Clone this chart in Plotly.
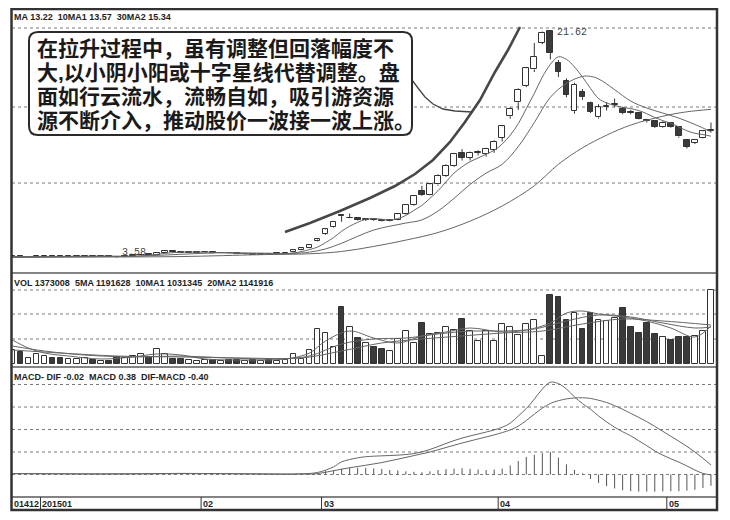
import plotly.graph_objects as go

# ---------------- data ----------------
idx = list(range(-1, 87))  # trading-day index; month starts below

opens = [3.68, 3.73, 3.67, 3.70, 3.71, 3.75, 3.71, 3.68, 3.70, 3.72,
         3.76, 3.72, 3.74, 3.68, 3.64, 3.73, 3.80, 3.88, 3.84, 4.02,
         4.12, 4.06, 3.99, 4.02, 4.03, 4.05, 3.97, 4.00, 3.95, 3.87,
         3.90, 3.86, 3.92, 3.90, 3.95, 4.05, 4.22, 4.36, 4.95, 5.48,
         6.00, 6.95, 6.72, 6.72, 6.60, 6.66, 6.58, 6.52, 6.62, 7.05,
         7.80, 8.90, 8.60, 9.40, 10.10, 10.90, 11.90, 11.50, 11.90, 11.80,
         12.10, 13.10, 14.80, 15.90, 17.20, 18.50, 20.60, 21.55, 19.00, 17.60,
         15.20, 16.75, 15.85, 14.70, 15.55, 15.70, 15.40, 15.15, 15.05, 14.50,
         14.40, 13.98, 14.30, 13.95, 12.90, 12.70, 13.10, 13.60]
closes = [3.73, 3.67, 3.70, 3.74, 3.75, 3.70, 3.68, 3.71, 3.73, 3.76,
          3.72, 3.74, 3.68, 3.64, 3.73, 3.80, 3.86, 3.83, 4.02, 4.12,
          4.05, 4.00, 4.03, 4.04, 4.05, 3.98, 4.00, 3.95, 3.88, 3.90,
          3.86, 3.92, 3.90, 3.95, 4.00, 4.22, 4.36, 4.60, 5.05, 5.85,
          6.45, 6.90, 6.76, 6.62, 6.66, 6.58, 6.52, 6.62, 7.05, 7.78,
          8.48, 8.60, 9.40, 10.10, 10.90, 11.80, 11.50, 11.90, 12.00, 12.20,
          12.80, 14.00, 15.40, 16.90, 18.60, 19.50, 21.40, 19.80, 18.30, 16.50,
          17.30, 16.30, 15.15, 15.50, 15.60, 15.75, 15.05, 15.05, 14.60, 14.42,
          13.95, 14.30, 13.98, 13.20, 12.40, 12.95, 13.60, 13.70]
highs = [3.75, 3.76, 3.72, 3.76, 3.78, 3.77, 3.74, 3.73, 3.75, 3.78,
         3.78, 3.76, 3.75, 3.70, 3.75, 3.82, 3.88, 3.90, 4.05, 4.18,
         4.15, 4.08, 4.06, 4.07, 4.08, 4.06, 4.03, 4.02, 3.97, 3.93,
         3.92, 3.94, 3.96, 3.97, 4.02, 4.25, 4.40, 4.65, 5.12, 5.92,
         6.52, 7.00, 7.10, 6.80, 6.72, 6.70, 6.64, 6.66, 7.12, 7.85,
         8.55, 9.30, 9.50, 10.20, 11.00, 11.90, 12.20, 12.00, 12.10, 12.30,
         12.90, 14.10, 15.50, 17.00, 18.70, 20.60, 21.50, 21.62, 19.25, 17.80,
         17.45, 16.95, 15.95, 15.75, 15.90, 16.20, 15.55, 15.30, 15.15, 14.60,
         14.50, 14.40, 14.35, 14.00, 13.00, 13.00, 13.70, 14.30]
lows = [3.64, 3.64, 3.63, 3.66, 3.68, 3.68, 3.66, 3.66, 3.68, 3.70,
        3.70, 3.70, 3.66, 3.58, 3.62, 3.71, 3.78, 3.80, 3.82, 4.00,
        4.02, 3.98, 3.97, 3.98, 3.99, 3.95, 3.95, 3.92, 3.86, 3.84,
        3.84, 3.85, 3.88, 3.89, 3.93, 4.03, 4.20, 4.34, 4.90, 5.42,
        5.95, 6.45, 6.70, 6.55, 6.52, 6.52, 6.48, 6.48, 6.58, 7.00,
        7.72, 8.50, 8.55, 9.30, 10.00, 10.80, 11.30, 11.30, 11.70, 11.60,
        11.90, 12.80, 14.60, 15.30, 17.10, 18.30, 20.50, 19.30, 17.90, 16.30,
        15.00, 16.10, 15.05, 14.60, 15.25, 15.50, 14.95, 14.95, 14.55, 14.30,
        13.88, 13.90, 13.90, 13.10, 12.25, 12.60, 13.05, 13.50]
volumes = [260000, 223000, 111000, 186000, 148000, 111000, 111000, 93000, 93000, 111000,
           74000, 56000, 56000, 130000, 111000, 148000, 186000, 130000, 278000, 186000,
           93000, 93000, 74000, 56000, 74000, 74000, 56000, 74000, 74000, 56000,
           74000, 56000, 74000, 56000, 74000, 186000, 93000, 260000, 649000, 575000,
           315000, 1058000, 686000, 482000, 390000, 315000, 278000, 241000, 464000, 612000,
           390000, 761000, 557000, 575000, 686000, 631000, 835000, 612000, 427000, 612000,
           427000, 742000, 686000, 538000, 742000, 816000, 148000, 1280000, 1243000, 816000,
           946000, 649000, 946000, 816000, 798000, 853000, 1039000, 686000, 575000, 761000,
           557000, 501000, 445000, 501000, 501000, 520000, 612000, 1373008]

# price moving averages (read at these trading-day indices)
ma5_idx = [-1, 2, 5, 8, 11, 14, 16, 18, 20, 22, 25, 28, 31, 34, 36, 37, 38, 39, 40, 41,
           42, 43, 44, 45, 46, 47, 48, 49, 50, 51, 52, 53, 54, 55, 56, 57, 58, 59, 60, 61,
           62, 63, 64, 65, 66, 67, 68, 69, 70, 71, 72, 73, 74, 75, 76, 77, 78, 79, 80, 81,
           82, 83, 84, 85, 86]
ma5_val = [3.70, 3.70, 3.71, 3.72, 3.73, 3.72, 3.80, 3.95, 4.05, 4.05, 4.01, 3.93, 3.89, 3.98,
           4.25, 4.45, 4.80, 5.20, 5.70, 6.10, 6.40, 6.65, 6.70, 6.65, 6.60, 6.70, 6.95, 7.35,
           7.75, 8.30, 8.90, 9.60, 10.30, 10.80, 11.20, 11.50, 11.80, 12.10, 12.60, 13.30,
           14.20, 15.40, 16.60, 17.90, 18.90, 19.50, 19.30, 18.70, 17.90, 17.00, 16.20, 15.85,
           15.65, 15.50, 15.40, 15.25, 15.00, 14.70, 14.45, 14.25, 13.95, 13.65, 13.45, 13.35,
           13.22]
ma10_idx = [-1, 5, 10, 15, 20, 25, 30, 34, 36, 38, 40, 42, 44, 46, 48, 50, 52, 54, 56, 58,
            60, 62, 64, 66, 68, 70, 71, 72, 74, 76, 78, 80, 82, 84, 86]
ma10_val = [3.70, 3.70, 3.71, 3.74, 3.88, 4.00, 3.97, 3.95, 4.05, 4.30, 4.75, 5.30, 5.80,
            6.10, 6.35, 6.60, 7.30, 8.30, 9.40, 10.30, 11.00, 12.40, 14.30, 16.30, 17.40,
            17.95, 17.95, 17.75, 16.90, 16.00, 15.45, 15.05, 14.65, 14.15, 13.57]
ma30_idx = [-1, 10, 20, 30, 36, 40, 44, 48, 52, 56, 60, 64, 67, 70, 73, 76, 80, 83, 86]
ma30_val = [3.62, 3.66, 3.70, 3.85, 3.92, 4.10, 4.50, 5.00, 5.60, 6.50, 7.70, 9.30, 11.00,
            12.30, 13.30, 14.10, 14.80, 15.15, 15.34]

# volume moving averages
vma5_idx = [-1, 1, 3, 6, 10, 14, 17, 20, 23, 28, 33, 36, 38, 41, 44, 47, 50, 53, 56, 60,
            63, 66, 68, 70, 72, 75, 78, 81, 84, 86]
vma5_val = [445000, 297000, 204000, 148000, 93000, 130000, 186000, 167000, 93000, 74000,
            93000, 204000, 427000, 612000, 482000, 390000, 520000, 594000, 668000, 594000,
            631000, 761000, 946000, 983000, 928000, 872000, 798000, 668000, 501000, 705000]
vma10_idx = [-1, 3, 8, 14, 20, 26, 32, 36, 40, 44, 48, 52, 56, 60, 64, 68, 72, 76, 80, 84, 86]
vma10_val = [334000, 241000, 167000, 130000, 148000, 111000, 93000, 148000, 371000, 464000,
             482000, 557000, 612000, 612000, 649000, 798000, 909000, 872000, 761000, 668000,
             686000]
vma20_idx = [-1, 5, 12, 20, 28, 35, 40, 45, 50, 55, 60, 65, 70, 75, 80, 86]
vma20_val = [260000, 204000, 148000, 130000, 111000, 111000, 241000, 390000, 464000, 520000,
             575000, 612000, 742000, 835000, 798000, 724000]

# MACD (DIF, DEA lines and DIF-DEA histogram)
dif_idx = [-1, 5, 10, 15, 20, 25, 30, 34, 37, 39, 40, 42, 43, 45, 47, 49, 51, 53, 55, 57,
           59, 60, 61, 62, 63, 64, 65, 66, 67, 68, 69, 70, 71, 72, 73, 74, 75, 76, 77, 78,
           79, 80, 81, 82, 83, 84, 85, 86]
dif_val = [0.04, 0.03, 0.02, 0.03, 0.05, 0.04, 0.02, 0.02, 0.09, 0.34, 0.56, 0.74, 0.79,
           0.83, 0.86, 0.93, 1.11, 1.38, 1.62, 1.80, 1.98, 2.10, 2.28, 2.60, 2.93, 3.35,
           3.80, 4.10, 4.04, 3.80, 3.45, 3.15, 2.90, 2.60, 2.34, 2.10, 1.90, 1.72, 1.50,
           1.28, 1.05, 0.86, 0.70, 0.55, 0.38, 0.20, 0.05, -0.02]
dea_idx = [-1, 10, 20, 30, 35, 37, 39, 41, 43, 45, 47, 49, 51, 53, 55, 57, 59, 61, 62, 63,
           64, 65, 66, 67, 68, 69, 70, 71, 72, 73, 74, 75, 76, 77, 78, 79, 80, 81, 82, 83,
           84, 85, 86]
dea_val = [0.04, 0.03, 0.04, 0.03, 0.02, 0.04, 0.17, 0.30, 0.41, 0.53, 0.68, 0.84, 1.00,
           1.20, 1.40, 1.58, 1.76, 1.98, 2.15, 2.40, 2.68, 2.95, 3.16, 3.28, 3.36, 3.40,
           3.41, 3.38, 3.30, 3.20, 3.06, 2.90, 2.72, 2.54, 2.35, 2.14, 1.92, 1.70, 1.48,
           1.25, 1.00, 0.72, 0.42]
macd_hist = [0.01, 0.01, 0.00, 0.01, 0.01, 0.00, 0.01, 0.01, 0.00, 0.01,
             0.01, 0.00, 0.01, 0.02, 0.01, 0.01, 0.02, 0.02, 0.01, 0.01,
             0.01, 0.00, 0.01, 0.01, 0.00, 0.01, 0.00, 0.01, 0.00, 0.01,
             0.00, 0.01, 0.00, 0.01, 0.01, 0.02, 0.03, 0.04, 0.05, 0.15,
             0.17, 0.26, 0.30, 0.30, 0.30, 0.27, 0.25, 0.20, 0.18, 0.14,
             0.12, 0.10, 0.14, 0.20, 0.24, 0.26, 0.28, 0.25, 0.22, 0.20,
             0.22, 0.26, 0.40, 0.60, 0.78, 0.88, 0.95, 1.00, 0.75, 0.45,
             0.20, 0.05, -0.20, -0.38, -0.52, -0.62, -0.70, -0.74, -0.76, -0.76,
             -0.76, -0.75, -0.74, -0.74, -0.72, -0.68, -0.60, -0.50]

month_labels = ["01412", "201501", "02", "03", "04", "05"]
month_start = [None, 3, 23, 38, 60, 81]

SP = " \u00a0"
legend_main = f"MA 13.22{SP}10MA1 13.57{SP}30MA2 15.34"
legend_vol = f"VOL 1373008{SP}5MA 1191628{SP}10MA1 1031345{SP}20MA2 1141916"
legend_macd = f"MACD- DIF -0.02{SP}MACD 0.38{SP}DIF-MACD -0.40"
note_lines = ["在拉升过程中，虽有调整但回落幅度不",
              "大,以小阴小阳或十字星线代替调整。盘",
              "面如行云流水，流畅自如，吸引游资源",
              "源不断介入，推动股价一波接一波上涨。"]

# ---------------- page geometry ----------------
# the page body adds an 8px offset; the figure fills the rest of the 730x520 window
OFF = 8
W, H = 730 - OFF, 520 - OFF
PX0, PX1, PY0, PY1 = 12, 716, 8, 510          # plot area in window pixels
L, R, T, B = PX0 - OFF, 730 - PX1, PY0 - OFF, 520 - PY1
PW, PH = PX1 - PX0, PY1 - PY0


def px(x):
    return (x - PX0) / PW


def py(y):
    return (PY1 - y) / PH


DARK = "#333333"
LINE = "#5a5a5a"
SMALLFONT = "Liberation Sans, Arial, sans-serif"

fig = go.Figure()

# ---- candles: wicks (split so they don't cross hollow bodies) ----
wx, wy = [], []
for i, o, h, l, c in zip(idx, opens, highs, lows, closes):
    top, bot = max(o, c), min(o, c)
    wx += [i, i, None, i, i, None]
    wy += [h, top, None, bot, l, None]
fig.add_trace(go.Scatter(x=wx, y=wy, mode="lines", line=dict(color=DARK, width=1),
                         hoverinfo="skip", xaxis="x", yaxis="y"))

up_x, up_b, up_h, dn_x, dn_b, dn_h = [], [], [], [], [], []
for i, o, c in zip(idx, opens, closes):
    hgt = max(abs(c - o), 0.03)
    if c >= o:
        up_x.append(i); up_b.append(min(o, c)); up_h.append(hgt)
    else:
        dn_x.append(i); dn_b.append(min(o, c)); dn_h.append(hgt)
fig.add_trace(go.Bar(x=up_x, y=up_h, base=up_b, width=0.72,
                     marker=dict(color="white", line=dict(color=DARK, width=1)),
                     xaxis="x", yaxis="y"))
fig.add_trace(go.Bar(x=dn_x, y=dn_h, base=dn_b, width=0.72,
                     marker=dict(color="#3a3a3a", line=dict(color=DARK, width=1)),
                     xaxis="x", yaxis="y"))

for xs, ys in [(ma5_idx, ma5_val), (ma10_idx, ma10_val), (ma30_idx, ma30_val)]:
    fig.add_trace(go.Scatter(x=xs, y=ys, mode="lines", line=dict(color="#666666", width=1),
                             line_shape="spline", xaxis="x", yaxis="y"))

# ---- volume ----
vu_x, vu_y, vd_x, vd_y = [], [], [], []
for i, o, c, v in zip(idx, opens, closes, volumes):
    if c >= o:
        vu_x.append(i); vu_y.append(v)
    else:
        vd_x.append(i); vd_y.append(v)
fig.add_trace(go.Bar(x=vu_x, y=vu_y, width=0.72,
                     marker=dict(color="white", line=dict(color=DARK, width=1)),
                     xaxis="x2", yaxis="y2"))
fig.add_trace(go.Bar(x=vd_x, y=vd_y, width=0.72,
                     marker=dict(color="#3a3a3a", line=dict(color=DARK, width=1)),
                     xaxis="x2", yaxis="y2"))
for xs, ys in [(vma5_idx, vma5_val), (vma10_idx, vma10_val), (vma20_idx, vma20_val)]:
    fig.add_trace(go.Scatter(x=xs, y=ys, mode="lines", line=dict(color="#666666", width=1),
                             line_shape="spline", xaxis="x2", yaxis="y2"))

# ---- MACD ----
hx, hy = [], []
for i, v in zip(idx, macd_hist):
    hx += [i, i, None]
    hy += [0, v, None]
fig.add_trace(go.Scatter(x=hx, y=hy, mode="lines", line=dict(color="#555555", width=1),
                         xaxis="x3", yaxis="y3"))
for xs, ys in [(dif_idx, dif_val), (dea_idx, dea_val)]:
    fig.add_trace(go.Scatter(x=xs, y=ys, mode="lines", line=dict(color="#666666", width=1),
                             line_shape="spline", xaxis="x3", yaxis="y3"))

# ---------------- axes ----------------
xr = [(PX0 - 20.4) / 8.03, (PX1 - 20.4) / 8.03]
dom_main = [py(273), py(PY0)]
dom_vol = [py(367), py(273)]
dom_macd = [py(497), py(367)]
price_slope = 0.0791
vol_slope = 18554
macd_slope = 1 / 22.5
ax_common = dict(visible=False, fixedrange=True)
fig.update_layout(
    xaxis=dict(range=xr, domain=[0, 1], anchor="y", **ax_common),
    xaxis2=dict(range=xr, domain=[0, 1], anchor="y2", matches="x", **ax_common),
    xaxis3=dict(range=xr, domain=[0, 1], anchor="y3", matches="x", **ax_common),
    yaxis=dict(domain=dom_main, range=[21.62 - (273 - 30) * price_slope,
                                       21.62 + (30 - PY0) * price_slope], **ax_common),
    yaxis2=dict(domain=dom_vol, range=[-(367 - 364) * vol_slope, (364 - 273) * vol_slope],
                **ax_common),
    yaxis3=dict(domain=dom_macd, range=[-(497 - 474.5) * macd_slope, (474.5 - 367) * macd_slope],
                **ax_common),
)

# ---------------- shapes: grid, frame, separators ----------------
shapes = []
for yy in [28, 107, 183, 290, 314, 339, 384.5, 407, 429.5, 452, 474.5]:
    shapes.append(dict(type="line", xref="paper", yref="paper", x0=0, x1=1,
                       y0=py(yy), y1=py(yy), line=dict(color="#7a7a7a", width=1, dash="dot"),
                       layer="below"))
for yy in [273, 367, 497]:
    shapes.append(dict(type="line", xref="paper", yref="paper", x0=0, x1=1,
                       y0=py(yy), y1=py(yy), line=dict(color=LINE, width=1.5)))
for ms in month_start[1:]:
    shapes.append(dict(type="line", xref="x3", yref="paper", x0=ms - 0.5, x1=ms - 0.5,
                       y0=py(509), y1=py(497), line=dict(color=DARK, width=1)))
shapes.append(dict(type="rect", xref="paper", yref="paper", x0=px(11.5), x1=px(717),
                   y0=py(510), y1=py(9), line=dict(color=DARK, width=2.5)))


def path_px(points, close=False):
    s = "M " + " L ".join(f"{px(a):.5f},{py(b):.5f}" for a, b in points)
    return s + (" Z" if close else "")


# hand-drawn trend curve
trend_pts = [(285, 232), (310, 223), (340, 211), (370, 198), (395, 186), (415, 174),
             (433, 160), (450, 142), (465, 122), (480, 100), (495, 72), (508, 50), (520, 27)]
shapes.append(dict(type="path", xref="paper", yref="paper", path=path_px(trend_pts),
                   line=dict(color="#474747", width=2.6)))
# callout tail
tail_pts = [(412, 80), (418, 88), (425, 97), (433, 104), (443, 109), (455, 111), (472, 112)]
shapes.append(dict(type="path", xref="paper", yref="paper", path=path_px(tail_pts),
                   line=dict(color="#444444", width=1.3)))
# rounded callout box
bx0, by0, bx1, by1, rr = 29, 32, 412, 135, 9
box = (f"M {px(bx0 + rr)},{py(by0)} L {px(bx1 - rr)},{py(by0)} "
       f"Q {px(bx1)},{py(by0)} {px(bx1)},{py(by0 + rr)} L {px(bx1)},{py(by1 - rr)} "
       f"Q {px(bx1)},{py(by1)} {px(bx1 - rr)},{py(by1)} L {px(bx0 + rr)},{py(by1)} "
       f"Q {px(bx0)},{py(by1)} {px(bx0)},{py(by1 - rr)} L {px(bx0)},{py(by0 + rr)} "
       f"Q {px(bx0)},{py(by0)} {px(bx0 + rr)},{py(by0)} Z")
shapes.append(dict(type="path", xref="paper", yref="paper", path=box,
                   fillcolor="white", line=dict(color="#2a2a2a", width=2)))
fig.update_layout(shapes=shapes)

# ---------------- annotations ----------------
ann = []
small = dict(family=SMALLFONT, size=9, color="#1e1e1e", weight="bold")
for txt, yy in [(legend_main, 17), (legend_vol, 283), (legend_macd, 377)]:
    ann.append(dict(text=txt, xref="paper", yref="paper", x=px(12), y=py(yy),
                    xanchor="left", yanchor="middle", showarrow=False, font=small))
for lab, ms in zip(month_labels, month_start):
    if ms is None:
        ann.append(dict(text=lab, xref="paper", yref="paper", x=px(12), y=py(503.5),
                        xanchor="left", yanchor="middle", showarrow=False, font=small))
    else:
        ann.append(dict(text=lab, xref="x3", yref="paper", x=ms - 0.5, y=py(503.5),
                        xanchor="left", yanchor="middle", xshift=0, showarrow=False,
                        font=small))
# callout text: one text block, 21px glyphs on a 24px line pitch
note_html = "<br>".join(f"<span style='font-size:21px'>{t}</span>" for t in note_lines)
ann.append(dict(text=note_html, xref="paper", yref="paper", x=px(35), y=py(85),
                xanchor="left", yanchor="middle", align="left", showarrow=False,
                font=dict(family="Liberation Sans, Noto Sans CJK SC", size=18.5,
                          color="#1a1a1a", weight="bold")))
# high / low labels placed at the extreme data points
hi_i = idx[highs.index(max(highs))]
lo_i = idx[lows.index(min(lows))]
mono = dict(family="Liberation Mono, DejaVu Sans Mono", size=10, color="#444")
ann.append(dict(text=f"{max(highs):.2f}", x=hi_i, y=max(highs), xref="x", yref="y",
                xanchor="left", yanchor="middle", xshift=5, yshift=-2, showarrow=False,
                font=mono))
ann.append(dict(text=f"{min(lows):.2f}", x=lo_i, y=min(lows), xref="x", yref="y",
                xanchor="left", yanchor="middle", xshift=3, yshift=6, showarrow=False,
                font=mono))
fig.update_layout(annotations=ann)

fig.update_layout(width=W, height=H, margin=dict(l=L, r=R, t=T, b=B),
                  paper_bgcolor="white", plot_bgcolor="white", showlegend=False,
                  barmode="overlay", bargap=0)

fig.write_html("out.html")
